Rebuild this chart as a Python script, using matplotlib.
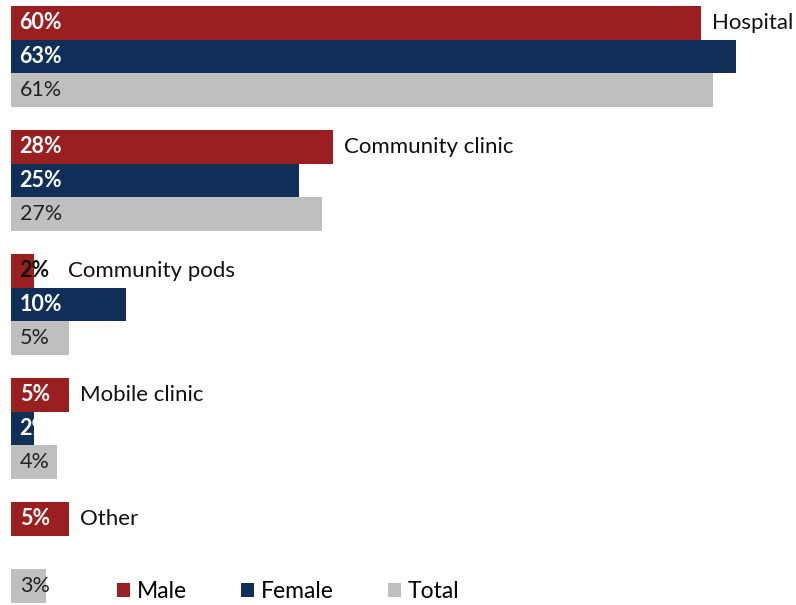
import matplotlib
matplotlib.use('Agg')
import matplotlib.pyplot as plt
from matplotlib.patches import Patch
import numpy as np

plt.rcParams['font.family'] = ['Lato', 'DejaVu Sans']

categories = ['Hospital', 'Community clinic', 'Community pods', 'Mobile clinic', 'Other']
male = [60, 28, 2, 5, 5]
female = [63, 25, 10, 2, None]   # no female bar shown for "Other"
total = [61, 27, 5, 4, 3]

series_names = ['Male', 'Female', 'Total']
colors = ['#9a1f20', '#0f2f58', '#bfbfbf']
label_colors = ['white', 'white', '#222222']
label_weights = ['bold', 'bold', 'normal']

fig = plt.figure(figsize=(7.96, 6.05), dpi=100)
ax = fig.add_axes([0, 0, 1, 1])

px = 11.5           # pixels per percent
bar_px = 33.7       # bar height in pixels
pitch = 124 / bar_px
ax.set_xlim(-11 / px, (796 - 11) / px)
top = 6 / bar_px
ax.set_ylim(605 / bar_px - top, -top)
ax.axis('off')

for s, vals in enumerate([male, female, total]):
    for g, v in enumerate(vals):
        if v is None:
            continue
        y = g * pitch + s
        bar = ax.barh(y, v, height=1, align='edge', color=colors[s], linewidth=0)[0]
        col = label_colors[s]
        if s == 0 and v < 4:
            col = '#111111'
        t = ax.text(0.75, y + 0.5, f'{v}%', color=col, fontsize=15.5,
                    fontweight=label_weights[s], va='center', ha='left')
        if s == 1 and v < 4:
            t.set_clip_path(bar)

for g, (name, v) in enumerate(zip(categories, male)):
    ax.text(max(v, 4.0) + 1.0, g * pitch + 0.5, name, fontsize=16,
            color='#111111', va='center', ha='left')

handles = [Patch(facecolor=c, edgecolor='none') for c in colors]
ax.legend(handles, series_names, loc='center left', frameon=False,
          bbox_to_anchor=(117 / 796, 1 - 592 / 605), bbox_transform=fig.transFigure,
          ncol=3, fontsize=16.5, handlelength=0.57, handleheight=0.57,
          handletextpad=0.3, columnspacing=2.35, borderpad=0, borderaxespad=0)

fig.savefig('out.png', dpi=100)
